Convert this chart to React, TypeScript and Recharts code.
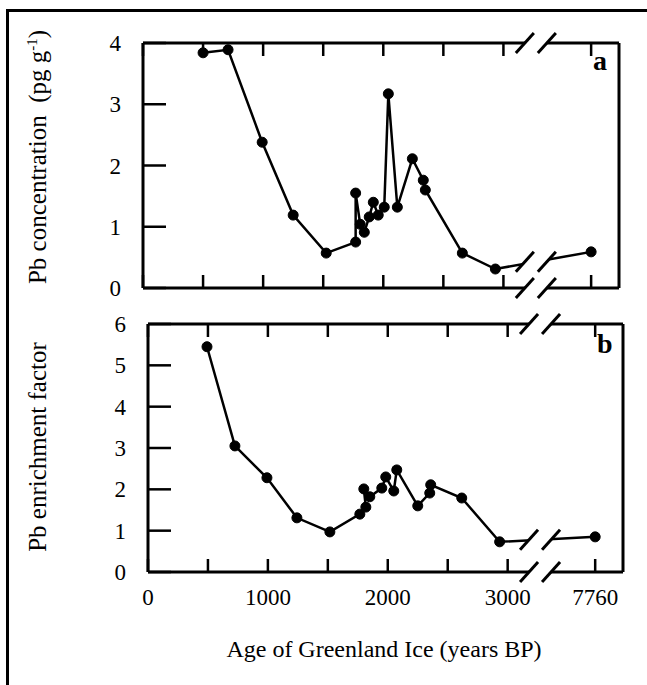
import { LineChart, Line, XAxis, YAxis, ReferenceDot } from 'recharts'

// panel a: Pb concentration (pg/g)
const ageA = [500, 708, 992, 1250, 1525, 1770, 1770, 1808, 1842, 1883, 1917, 1958, 2008, 2042, 2117, 2242, 2333, 2350, 2658, 2933, 7760]
const pbConc = [3.84, 3.89, 2.38, 1.19, 0.57, 0.75, 1.55, 1.04, 0.91, 1.16, 1.40, 1.19, 1.32, 3.17, 1.32, 2.11, 1.76, 1.60, 0.57, 0.31, 0.59]

// panel b: Pb enrichment factor
const ageB = [492, 725, 992, 1242, 1517, 1767, 1817, 1800, 1850, 1950, 1983, 2050, 2075, 2250, 2350, 2358, 2617, 2933, 7760]
const pbEF = [5.45, 3.05, 2.28, 1.31, 0.97, 1.40, 1.57, 2.01, 1.82, 2.03, 2.30, 1.96, 2.47, 1.60, 1.91, 2.11, 1.79, 0.73, 0.85]

const xTicks = [0, 500, 1000, 1500, 2000, 2500, 3000, 7760]
const xLabels = [0, 1000, 2000, 3000, 7760]
const concTicks = [0, 1, 2, 3, 4]
const efTicks = [0, 1, 2, 3, 4, 5, 6]

// broken axis: 7760 is drawn at FAR_POS, the break marks sit at BREAK_POS
const FAR_AGE = 7760
const FAR_POS = 3730
const BREAK_POS = 3270
const X_MAX = 3962

const FONT = '"Liberation Serif", "Times New Roman", serif'
const Y_TICK_LEN = 23
const X_TICK_LEN = 13

const pos = (age: number) => (age >= FAR_AGE ? FAR_POS : age)
const toRows = (ages: number[], vals: number[]) => ages.map((a, i) => ({ x: pos(a), age: a, v: vals[i] }))

const rowsA = toRows(ageA, pbConc)
const rowsB = toRows(ageB, pbEF)

function breakY(rows: { x: number; v: number }[]) {
  const far = rows[rows.length - 1]
  const prev = rows[rows.length - 2]
  const t = (BREAK_POS - prev.x) / (far.x - prev.x)
  return prev.v + (far.v - prev.v) * t
}

function BreakMark(props: any) {
  const { cx, cy } = props
  if (cx == null || cy == null) return null
  const d = 11, w = 9, h = 10
  return (
    <g>
      <polygon points={`${cx - d - w},${cy + h} ${cx - d + w},${cy - h} ${cx + d + w},${cy - h} ${cx + d - w},${cy + h}`} fill="#fff" />
      <line x1={cx - d - w} y1={cy + h} x2={cx - d + w} y2={cy - h} stroke="#000" strokeWidth={3} />
      <line x1={cx + d - w} y1={cy + h} x2={cx + d + w} y2={cy - h} stroke="#000" strokeWidth={3} />
    </g>
  )
}

const axisLine = { stroke: '#000', strokeWidth: 3 }
const tickLine = { stroke: '#000', strokeWidth: 2.5 }
const tickStyle = { fill: '#000', fontSize: 23, fontFamily: FONT }
const noLabel = () => <g />

// the tick axis is mirrored (ticks point inward), so the label is pushed back out past the axis line
function YLabel(p: any) {
  return (
    <text x={p.x - Y_TICK_LEN - 22} y={p.y} dy="0.355em" textAnchor="end" {...tickStyle}>
      {p.payload.value}
    </text>
  )
}

const fmtX = (v: number) => (v === FAR_POS ? String(FAR_AGE) : xLabels.includes(v) ? String(v) : '')

function Panel({ rows, yMax, yTicks, top, height, margin, showX }: any) {
  const ticks = xTicks.map(pos)
  const xDom = [0, X_MAX]
  const yDom = [0, yMax]
  return (
    <div style={{ position: 'absolute', left: 0, top }}>
      <LineChart width={647} height={height} data={rows} margin={margin}>
        {showX && (
          <XAxis xAxisId="labels" dataKey="x" type="number" domain={xDom} allowDataOverflow ticks={ticks} interval={0}
            orientation="bottom" height={60} axisLine={false} tickLine={false} tickSize={0} tickMargin={17}
            tick={tickStyle} tickFormatter={fmtX} />
        )}
        <XAxis xAxisId="bottom" dataKey="x" type="number" domain={xDom} allowDataOverflow ticks={ticks} interval={0}
          orientation="bottom" mirror height={X_TICK_LEN} axisLine={axisLine} tickLine={tickLine} tickSize={X_TICK_LEN} tick={noLabel} />
        <XAxis xAxisId="top" dataKey="x" type="number" domain={xDom} allowDataOverflow ticks={ticks} interval={0}
          orientation="top" mirror height={X_TICK_LEN} axisLine={axisLine} tickLine={tickLine} tickSize={X_TICK_LEN} tick={noLabel} />
        <YAxis yAxisId="left" dataKey="v" type="number" domain={yDom} ticks={yTicks} interval={0} width={Y_TICK_LEN} mirror
          axisLine={axisLine} tickLine={tickLine} tickSize={Y_TICK_LEN} tickMargin={0} tick={YLabel} />
        <YAxis yAxisId="right" orientation="right" type="number" domain={yDom} ticks={yTicks} interval={0} width={Y_TICK_LEN} mirror
          axisLine={axisLine} tickLine={tickLine} tickSize={Y_TICK_LEN} tick={noLabel} />
        <Line xAxisId="bottom" yAxisId="left" type="linear" dataKey="v" stroke="#000" strokeWidth={2.5}
          dot={{ r: 5, fill: '#000', stroke: '#000', strokeWidth: 1 }} isAnimationActive={false} />
        <ReferenceDot xAxisId="bottom" yAxisId="left" x={BREAK_POS} y={yMax} shape={BreakMark} />
        <ReferenceDot xAxisId="bottom" yAxisId="left" x={BREAK_POS} y={0} shape={BreakMark} />
        <ReferenceDot xAxisId="bottom" yAxisId="left" x={BREAK_POS} y={breakY(rows)} shape={BreakMark} />
      </LineChart>
    </div>
  )
}

export default function App() {
  return (
    <div style={{ position: 'absolute', left: 0, top: 0, width: 647, height: 685, overflow: 'hidden', background: '#fff' }}>
      <div style={{ position: 'absolute', left: 6, top: 9, width: 700, height: 700, borderLeft: '3px solid #000', borderTop: '3px solid #000' }} />
      <Panel rows={rowsA} yMax={4} yTicks={concTicks} top={0} height={330} margin={{ top: 43, right: 28, bottom: 42, left: 143 }} showX={false} />
      <Panel rows={rowsB} yMax={6} yTicks={efTicks} top={300} height={385} margin={{ top: 24, right: 24, bottom: 53, left: 148 }} showX />
      <svg width={647} height={685} style={{ position: 'absolute', left: 0, top: 0, pointerEvents: 'none' }}>
        <g fontFamily={FONT} fill="#000">
          <text transform="translate(46,157) rotate(-90)" textAnchor="middle" fontSize={25} style={{ whiteSpace: 'pre' }}>
            Pb concentration  (pg g<tspan dy={-9} fontSize={15}>-1</tspan><tspan dy={9}>)</tspan>
          </text>
          <text transform="translate(46,447) rotate(-90)" textAnchor="middle" fontSize={25}>Pb enrichment factor</text>
          <text x={384} y={657} textAnchor="middle" fontSize={24}>Age of Greenland Ice (years BP)</text>
          <text x={593} y={70} fontSize={28} fontWeight="bold">a</text>
          <text x={597} y={353} fontSize={28} fontWeight="bold">b</text>
        </g>
      </svg>
    </div>
  )
}
